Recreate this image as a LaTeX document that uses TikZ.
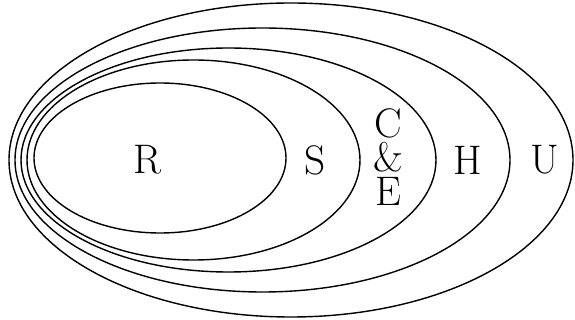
\documentclass[tikz,border=0pt]{standalone}
\usepackage{tikz}
\usetikzlibrary{positioning}

\begin{document}
\begin{tikzpicture}[
  x=0.02cm, y=-0.02cm,
  set/.style={draw=black, line width=0.8pt},
  lbl/.style={font=\fontsize{23.5}{19.5}\selectfont, inner sep=0pt, align=center},
]
  \useasboundingbox (0,0) rectangle (575,320);

  \draw[set] (160,158)   ellipse [x radius=126,   y radius=75];
  \draw[set] (193.5,160) ellipse [x radius=166.5, y radius=100];
  \draw[set] (228.5,160) ellipse [x radius=207.5, y radius=112];
  \draw[set] (262.5,160) ellipse [x radius=247.5, y radius=132];
  \draw[set] (291,160)   ellipse [x radius=282,   y radius=157];

  \node[lbl] (r)  at (148,160) {R};
  \node[lbl] (s)  at (315,160) {S};
  \node[lbl] (ce) at (388,157) {C\\\&\\E};
  \node[lbl] (h)  at (468,160) {H};
  \node[lbl] (u)  at (545,160) {U};
\end{tikzpicture}
\end{document}
